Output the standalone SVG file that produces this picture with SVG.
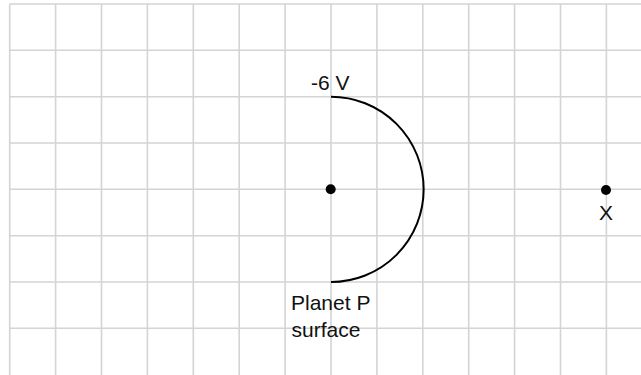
<svg xmlns="http://www.w3.org/2000/svg" width="641" height="375" viewBox="0 0 641 375">
<style>
.grid{stroke:#d4d4d4;stroke-width:1.6;fill:none}
.lbl{font-family:"Liberation Sans",Arial,sans-serif;font-size:21px;fill:#111}
</style>
<rect width="641" height="375" fill="#fff"/>
<g id="grid" class="grid">
<path d="M9.7,4V375M55.6,4V375M101.5,4V375M147.4,4V375M193.3,4V375M239.2,4V375M285.1,4V375M331,4V375M376.9,4V375M422.8,4V375M468.7,4V375M514.6,4V375M560.5,4V375M606.4,4V375"/>
<path d="M9.7,4H641M9.7,50.3H641M9.7,96.7H641M9.7,143H641M9.7,189.3H641M9.7,235.7H641M9.7,282H641M9.7,328.3H641"/>
</g>
<g id="planet">
<path d="M331,96.7A92.65,92.65 0 0 1 331,282" fill="none" stroke="#000" stroke-width="2"/>
<circle cx="330.7" cy="189.3" r="5" fill="#000"/>
<text class="lbl" x="311" y="90">-6 V</text>
<text class="lbl" x="291" y="310">Planet P</text>
<text class="lbl" x="291.5" y="337">surface</text>
</g>
<g id="pointX">
<circle cx="606" cy="190" r="5" fill="#000"/>
<text class="lbl" x="606" y="220" text-anchor="middle">X</text>
</g>
</svg>
